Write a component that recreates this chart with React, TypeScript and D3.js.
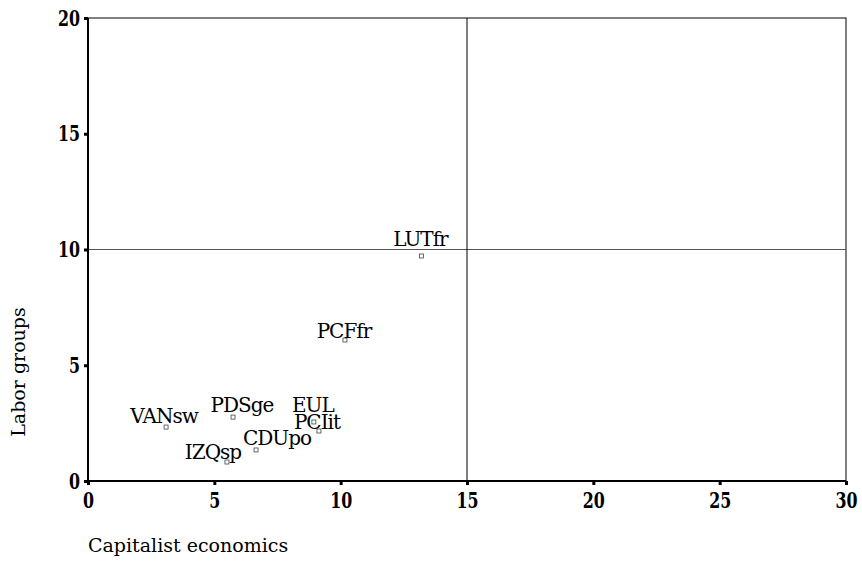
import React, { useEffect, useRef } from 'react';
import * as d3 from 'd3';

// party codes and their positions
const parties = ['LUTfr', 'PCFfr', 'VANsw', 'PDSge', 'EUL', 'PCIit', 'CDUpo', 'IZQsp'];
const capitalist = [13.2, 10.17, 3.09, 5.74, 8.94, 9.14, 6.65, 5.5];
const labor = [9.72, 6.09, 2.33, 2.76, 2.55, 2.16, 1.34, 0.82];
const xTicks = [0, 5, 10, 15, 20, 25, 30];
const yTicks = [0, 5, 10, 15, 20];

// label nudges (px) so names don't pile up
const labelDx = [-1, -1, -2, 9, -1, -2, 21, -14];
const labelDy = [-10, -2, -4, -5, -10, -2, -5, -3];

const W = 862;
const H = 569;
const margin = { left: 88, right: 16, top: 18, bottom: 88 };

const App = () => {
  const svgRef = useRef<SVGSVGElement>(null);

  useEffect(() => {
    const svg = d3.select(svgRef.current);
    svg.selectAll('*').remove();

    const x = d3.scaleLinear().domain([0, 30]).range([margin.left, W - margin.right]);
    const y = d3.scaleLinear().domain([0, 20]).range([H - margin.bottom, margin.top]);

    const textFont = "'DejaVu Serif', serif";
    const sx = 0.72; // squeeze tick digits horizontally

    // frame
    svg.append('rect')
      .attr('x', x(0)).attr('y', y(20))
      .attr('width', x(30) - x(0)).attr('height', y(0) - y(20))
      .attr('fill', 'none').attr('stroke', '#000').attr('stroke-width', 1);

    // reference lines
    svg.append('line')
      .attr('x1', x(0)).attr('x2', x(30)).attr('y1', y(10)).attr('y2', y(10))
      .attr('stroke', '#555').attr('stroke-width', 1);
    svg.append('line')
      .attr('x1', x(15)).attr('x2', x(15)).attr('y1', y(0)).attr('y2', y(20))
      .attr('stroke', '#000').attr('stroke-width', 1);

    // axes
    const xAxis = d3.axisBottom(x).tickValues(xTicks).tickSize(4).tickPadding(4).tickFormat(d3.format('d'));
    const gx = svg.append('g').attr('transform', `translate(0,${y(0)})`).call(xAxis);
    const yAxis = d3.axisLeft(y).tickValues(yTicks).tickSize(4).tickPadding(3).tickFormat(d3.format('d'));
    const gy = svg.append('g').attr('transform', `translate(${x(0)},0)`).call(yAxis);

    [gx, gy].forEach((g) => {
      g.attr('font-family', null).attr('font-size', null);
      g.select('.domain').attr('stroke-width', 2).attr('stroke', '#000');
      g.selectAll('.tick line').attr('stroke-width', 3).attr('stroke', '#000');
      g.selectAll('.tick text')
        .attr('fill', '#000')
        .style('font-family', textFont)
        .style('font-weight', 'bold')
        .style('font-size', '22px')
        .attr('transform', `scale(${sx},1)`);
    });
    gx.select('.domain').attr('d', `M${x(0)},0H${x(30)}`);
    gy.select('.domain').attr('d', `M0,${y(0)}V${y(20)}`);
    gx.selectAll('.tick text').attr('dy', '0.85em');
    gy.selectAll('.tick text').attr('x', -8 / sx);

    // markers
    svg.append('g').selectAll('rect')
      .data(parties)
      .join('rect')
      .attr('x', (d, i) => x(capitalist[i]) - 2)
      .attr('y', (d, i) => y(labor[i]) - 2)
      .attr('width', 4).attr('height', 4)
      .attr('fill', 'none').attr('stroke', '#444').attr('stroke-width', 0.8);

    // labels
    svg.append('g').selectAll('text')
      .data(parties)
      .join('text')
      .attr('x', (d, i) => x(capitalist[i]) + labelDx[i])
      .attr('y', (d, i) => y(labor[i]) + labelDy[i])
      .attr('text-anchor', 'middle')
      .style('font-family', textFont)
      .style('font-size', '20px')
      .style('letter-spacing', '-1px')
      .attr('fill', '#000')
      .text((d) => d);

    // axis titles
    svg.append('text')
      .attr('x', x(0)).attr('y', 552)
      .style('font-family', textFont).style('font-size', '19px')
      .text('Capitalist economics');
    svg.append('text')
      .attr('transform', `translate(25,372) rotate(-90)`)
      .attr('text-anchor', 'middle')
      .style('font-family', textFont).style('font-size', '19px')
      .text('Labor groups');
  }, []);

  return (
    <svg ref={svgRef} width={W} height={H}
      style={{ position: 'absolute', left: 0, top: 0, background: '#fff' }} />
  );
};

export default App;
